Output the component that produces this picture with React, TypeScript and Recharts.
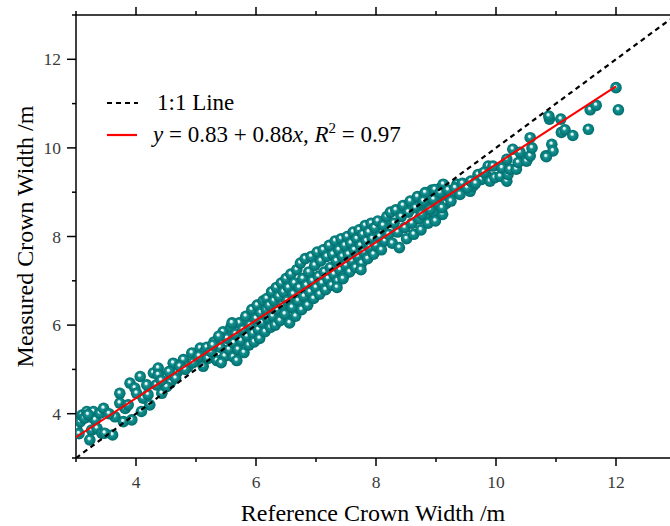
import React from 'react';
import { ScatterChart, Scatter, XAxis, YAxis, Legend } from 'recharts';

// Reference vs measured crown width (m)
const lowRange: [number, number][] = [
  [3.01,3.67],[3.07,3.82],[3.10,3.97],[3.18,4.05],[3.23,3.93],[3.29,4.05],[3.32,3.86],[3.40,4.01],
  [3.46,4.12],[3.26,3.63],[3.35,3.67],[3.43,3.56],[3.23,3.41],[3.61,3.52],[3.48,3.56],[3.65,3.93],
  [3.79,3.82],[3.93,3.86],[3.73,4.24],[3.82,4.12],[3.73,4.46],[3.90,4.69],[3.98,4.58],[3.87,4.20],
  [4.01,4.46],[4.07,4.84],[4.18,4.65],[4.12,4.35],[4.23,4.20],[4.20,4.43],[4.09,4.05],[3.05,3.55],
  [3.14,3.90],[3.55,4.00],[3.20,3.98],
  [4.29,4.92],[4.37,5.03],[4.34,4.65],[4.43,4.46],[4.48,4.84],[4.62,5.14],[4.57,4.69],[4.68,4.92],
  [4.79,5.22],[4.87,5.07],[4.93,5.37],[5.07,5.48],[5.01,5.22],[5.15,5.41],[5.12,5.07],[4.73,5.07],
  [4.51,4.61],[4.37,4.88],[4.55,4.95],[4.82,5.00],[4.95,5.15],[5.05,5.30],[5.20,5.25],[5.18,5.50],
  [4.66,4.80],[4.42,4.75],
];

const midRange: [number, number][] = [
  [5.25,5.40],[5.30,5.62],[5.35,5.20],[5.40,5.50],[5.45,5.85],[5.48,5.30],[5.52,5.70],[5.55,5.45],
  [5.58,5.95],[5.62,5.28],[5.63,5.60],[5.66,5.80],[5.70,5.45],[5.72,6.05],[5.75,5.65],[5.78,5.90],
  [5.80,5.38],[5.83,6.20],[5.85,5.75],[5.88,5.55],[5.90,6.00],[5.93,6.35],[5.95,5.82],[5.97,5.62],
  [6.00,6.15],[6.02,6.45],[6.04,5.90],[6.06,5.70],[6.08,6.28],[6.10,6.05],[6.12,6.55],[6.15,5.85],
  [6.17,6.35],[6.20,6.15],[5.28,5.55],[5.38,5.75],[5.42,5.15],[5.60,6.05],[5.68,5.20],[6.18,6.60],
  [6.22,6.45],[6.24,5.95],[6.26,6.75],[6.28,6.20],[6.30,6.55],[6.32,6.00],[6.34,6.85],[6.36,6.35],
  [6.38,6.65],[6.40,6.10],[6.42,6.95],[6.44,6.45],[6.46,6.75],[6.48,6.25],[6.50,7.05],[6.52,6.55],
  [6.54,6.85],[6.56,6.05],[6.58,7.15],[6.60,6.40],[6.62,6.70],[6.64,6.95],[6.66,6.20],[6.68,7.25],
  [6.70,6.55],[6.72,6.85],[6.74,7.40],[6.76,6.35],[6.78,7.05],[6.80,6.65],[6.82,7.50],[6.84,6.90],
  [6.86,6.45],[6.88,7.20],[6.90,6.75],[6.92,7.55],[6.94,7.00],[6.96,6.60],[6.98,7.35],[7.00,6.85],
  [7.02,7.65],[7.04,7.10],[7.06,6.70],[7.08,7.45],[7.10,6.95],[7.12,7.70],[7.14,7.20],[7.16,6.80],
  [7.18,7.55],[7.20,7.05],
];

const upperRange: [number, number][] = [
  [7.22,7.80],[7.24,7.30],[7.26,6.90],[7.28,7.60],[7.30,7.15],[7.32,7.90],[7.34,7.45],[7.36,7.00],
  [7.38,7.70],[7.40,7.25],[7.42,7.95],[7.44,7.55],[7.46,7.10],[7.48,7.80],[7.50,7.35],[7.52,8.00],
  [7.54,7.60],[7.56,7.20],[7.58,7.85],[7.60,7.45],[7.62,8.10],[7.64,7.70],[7.66,7.30],[7.68,7.95],
  [7.70,7.55],[7.72,8.15],[7.74,7.80],[7.76,7.40],[7.78,8.05],[7.80,7.65],[7.82,8.25],[7.84,7.90],
  [7.86,7.50],[7.88,8.10],[7.90,7.75],[7.92,8.30],[7.94,7.95],[7.96,7.60],[7.98,8.20],[8.00,7.80],
  [8.03,8.35],[8.06,8.00],[8.09,7.70],[8.12,8.25],[8.15,7.90],[8.18,8.45],[7.35,6.85],[7.45,7.05],
  [7.75,7.25],
  [8.21,8.05],[8.24,8.55],[8.27,7.85],[8.30,8.30],[8.33,8.60],[8.36,8.10],[8.39,7.75],[8.42,8.45],
  [8.45,8.70],[8.48,8.20],[8.51,7.95],[8.54,8.55],[8.57,8.80],[8.60,8.30],[8.63,8.05],[8.66,8.65],
  [8.69,8.90],[8.72,8.40],[8.75,8.15],[8.78,8.75],[8.81,8.95],[8.84,8.50],[8.87,8.30],[8.90,8.85],
  [8.93,9.05],[8.96,8.55],[8.99,8.35],[9.02,8.90],[9.05,8.70],[9.08,9.10],[9.11,8.50],[9.14,8.95],
  [9.17,8.75],
];

const highRange: [number, number][] = [
  [8.82,8.99],[8.79,8.80],[8.98,9.06],[8.96,8.84],[9.12,9.18],[9.07,8.99],[9.10,8.65],[8.90,8.61],
  [8.76,8.50],[9.23,8.88],[9.29,9.02],[9.35,9.18],[9.46,9.14],[9.57,9.02],[9.62,9.14],[9.70,9.40],
  [9.76,9.29],[9.85,9.36],[9.90,9.25],[9.87,9.59],[9.95,9.59],[9.98,9.33],[10.07,9.36],[10.10,9.55],
  [10.18,9.25],[10.20,9.40],[10.23,9.52],[10.34,9.52],[10.18,9.74],[10.28,9.97],[10.37,9.67],
  [10.40,9.90],[10.51,9.70],[10.57,9.82],[10.60,10.00],[10.57,10.23],
  [9.20,9.05],[9.25,8.80],[9.32,9.10],[9.40,8.95],[9.44,9.20],[9.52,9.10],[9.58,9.25],[9.66,9.20],
  [9.80,9.45],
  [10.83,9.82],[10.93,10.08],[10.95,9.93],[10.89,10.65],[10.88,10.72],[10.84,9.80],[11.08,10.65],
  [11.09,10.35],[11.15,10.41],[11.28,10.28],[11.54,10.42],[11.57,10.86],[11.67,10.96],
  [12.00,11.36],[12.04,10.86],
];

const oneToOneX = [3, 12.9];
const fitX = [3, 12];
const fitIntercept = 0.83;
const fitSlope = 0.88;

const xTicks = [3, 4, 5, 6, 7, 8, 9, 10, 11, 12];
const yTicks = [3, 4, 5, 6, 7, 8, 9, 10, 11, 12, 13];
const majorXTicks = [4, 6, 8, 10, 12];
const majorYTicks = [4, 6, 8, 10, 12];

const points = [...lowRange, ...midRange, ...upperRange, ...highRange].map(([x, y]) => ({ x, y }));
const oneToOne = oneToOneX.map((v) => ({ x: v, y: v }));
const fitLine = fitX.map((v) => ({ x: v, y: fitIntercept + fitSlope * v }));

const FONT = '"Liberation Serif", "Times New Roman", serif';

const Ball = (props: any) => {
  const { cx, cy } = props;
  if (cx == null || cy == null) return <g />;
  return <circle cx={cx} cy={cy} r={5.8} fill="url(#ballGrad)" />;
};

const NoShape = () => <g />;

const XTick = (props: any) => {
  const { x, y, payload } = props;
  const v = payload.value;
  const major = majorXTicks.includes(v);
  return (
    <g>
      <line x1={x} x2={x} y1={y} y2={y + (major ? 8 : 4)} stroke="#000" strokeWidth={1.5} />
      {major && (
        <text x={x} y={y + 30} textAnchor="middle" fontFamily={FONT} fontSize={17.5} fill="#3a3a3a">
          {v}
        </text>
      )}
    </g>
  );
};

const TopTick = (props: any) => {
  const { x, y, payload } = props;
  const v = payload.value;
  const major = majorXTicks.includes(v);
  return <line x1={x} x2={x} y1={y} y2={y - (major ? 8 : 4)} stroke="#000" strokeWidth={1.5} />;
};

const YTick = (props: any) => {
  const { x, y, payload } = props;
  const v = payload.value;
  const major = majorYTicks.includes(v);
  return (
    <g>
      <line x1={x - (major ? 9 : 4)} x2={x} y1={y} y2={y} stroke="#000" strokeWidth={1.5} />
      {major && (
        <text x={x - 15} y={y} dy="0.35em" textAnchor="end" fontFamily={FONT} fontSize={17.5} fill="#3a3a3a">
          {v}
        </text>
      )}
    </g>
  );
};

const YTitle = (props: any) => {
  const vb = props.viewBox || { x: 0, y: 15, width: 76, height: 443 };
  const cx = vb.x + 33;
  const cy = vb.y + vb.height / 2;
  return (
    <text
      x={cx}
      y={cy}
      transform={`rotate(-90, ${cx}, ${cy})`}
      textAnchor="middle"
      fontFamily={FONT}
      fontSize={24}
      fill="#000"
    >
      Measured Crown Width /m
    </text>
  );
};

const LegendBox = () => (
  <svg width={420} height={70} style={{ display: 'block', overflow: 'visible' }}>
    <line x1={7} x2={38} y1={20} y2={20} stroke="#000" strokeWidth={2.2} strokeDasharray="5 4" />
    <text x={57} y={27} fontFamily={FONT} fontSize={23} fill="#000">1:1 Line</text>
    <line x1={7} x2={37} y1={52} y2={52} stroke="#ff0000" strokeWidth={2.2} />
    <text x={53} y={59} fontFamily={FONT} fontSize={23} fill="#000">
      <tspan fontStyle="italic">y</tspan>
      <tspan> = 0.83 + 0.88</tspan>
      <tspan fontStyle="italic">x</tspan>
      <tspan>, </tspan>
      <tspan fontStyle="italic">R</tspan>
      <tspan fontSize={15} dy={-9}>2</tspan>
      <tspan dy={9}> = 0.97</tspan>
    </text>
  </svg>
);

export default function App() {
  return (
    <div style={{ position: 'absolute', left: 0, top: 0, width: 670, height: 526, background: '#fff' }}>
      <ScatterChart width={670} height={526} margin={{ top: 0, right: 0, bottom: 0, left: 0 }}>
        <defs>
          <radialGradient id="ballGrad" cx="0.5" cy="0.5" r="0.5" fx="0.42" fy="0.35">
            <stop offset="0%" stopColor="#ffffff" />
            <stop offset="18%" stopColor="#d8f2f2" />
            <stop offset="38%" stopColor="#16908f" />
            <stop offset="80%" stopColor="#047b7b" />
            <stop offset="100%" stopColor="#026868" />
          </radialGradient>
        </defs>
        <XAxis
          xAxisId="b"
          dataKey="x"
          type="number"
          domain={[3, 12.9]}
          allowDataOverflow
          ticks={xTicks}
          interval={0}
          height={68}
          tickSize={0}
          tickMargin={0}
          tick={<XTick />}
          axisLine={{ stroke: '#000', strokeWidth: 1.5 }}
          label={{
            value: 'Reference Crown Width /m',
            position: 'insideBottom',
            offset: 5,
            style: { fontFamily: FONT, fontSize: 24, fill: '#000' },
          }}
        />
        <XAxis
          xAxisId="t"
          orientation="top"
          dataKey="x"
          type="number"
          domain={[3, 12.9]}
          allowDataOverflow
          ticks={xTicks}
          interval={0}
          height={15}
          tickSize={0}
          tickMargin={0}
          tick={<TopTick />}
          axisLine={{ stroke: '#000', strokeWidth: 1.5 }}
        />
        <YAxis
          yAxisId="l"
          dataKey="y"
          type="number"
          domain={[3, 13]}
          allowDataOverflow
          ticks={yTicks}
          interval={0}
          width={76}
          tickSize={0}
          tickMargin={0}
          tick={<YTick />}
          axisLine={{ stroke: '#000', strokeWidth: 1.5 }}
          label={<YTitle />}
        />
        <Legend
          layout="vertical"
          align="center"
          verticalAlign="middle"
          wrapperStyle={{ left: 100, top: 83, width: 420, height: 70 }}
          content={() => <LegendBox />}
        />
        <Scatter
          xAxisId="b"
          yAxisId="l"
          data={points}
          shape={<Ball />}
          isAnimationActive={false}
          legendType="none"
        />
        <Scatter
          xAxisId="b"
          yAxisId="l"
          data={oneToOne}
          line={{ stroke: '#000', strokeWidth: 2.2, strokeDasharray: '5 4' }}
          shape={<NoShape />}
          isAnimationActive={false}
          legendType="none"
        />
        <Scatter
          xAxisId="b"
          yAxisId="l"
          data={fitLine}
          line={{ stroke: '#ff0000', strokeWidth: 2 }}
          shape={<NoShape />}
          isAnimationActive={false}
          legendType="none"
        />
      </ScatterChart>
    </div>
  );
}
